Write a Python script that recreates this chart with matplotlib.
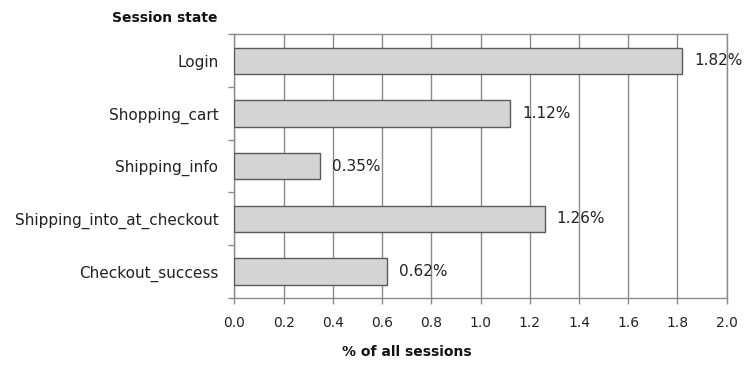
import matplotlib
matplotlib.use("Agg")
import matplotlib.pyplot as plt
import numpy as np

categories = ["Login", "Shopping_cart", "Shipping_info", "Shipping_into_at_checkout", "Checkout_success"]
values = [1.82, 1.12, 0.35, 1.26, 0.62]
value_labels = ["1.82%", "1.12%", "0.35%", "1.26%", "0.62%"]
xticks = [0.0, 0.2, 0.4, 0.6, 0.8, 1.0, 1.2, 1.4, 1.6, 1.8, 2.0]

plt.rcParams['font.family'] = ['DejaVu Sans']

fig = plt.figure(figsize=(7.47, 3.74), dpi=100)
ax = fig.add_axes([0.3137, 0.204, 0.9728 - 0.3137, 0.9078 - 0.204])

y = np.arange(len(categories))
ax.barh(y, values, height=0.5, color="#d4d4d4", edgecolor="#5a5a5a", linewidth=1.0, zorder=3)

for yi, v, lab in zip(y, values, value_labels):
    ax.annotate(lab, (v, yi), xytext=(8.5, 0), textcoords="offset points",
                va="center", ha="left", fontsize=11, color="#222222", zorder=4)

ax.set_xlim(0, 2.0)
ax.set_ylim(len(categories) - 0.5, -0.5)
ax.set_xticks(xticks)
ax.set_xticklabels([f"{t:.1f}" for t in xticks])
ax.set_yticks(y)
ax.set_yticklabels(categories)
ax.set_yticks(np.arange(len(categories) + 1) - 0.5, minor=True)

ax.grid(axis="x", color="#8a8a8a", linewidth=1.0, zorder=0)
ax.set_axisbelow(True)

for s in ax.spines.values():
    s.set_color("#8a8a8a")
    s.set_linewidth(1.0)

ax.tick_params(axis="y", which="major", length=0, pad=11.5, labelsize=11, labelcolor="#222222")
ax.tick_params(axis="y", which="minor", length=4, width=1, color="#8a8a8a", direction="out")
ax.tick_params(axis="x", which="major", length=4, width=1, color="#8a8a8a", direction="out",
               pad=9, labelsize=10, labelcolor="#222222")

fig.text(217 / 747, 1 - 18 / 374, "Session state", ha="right", va="center",
         fontsize=10, fontweight="bold", color="#111111")
fig.text(407 / 747, 1 - 352 / 374, "% of all sessions", ha="center", va="center",
         fontsize=10, fontweight="bold", color="#111111")

fig.savefig("out.png", dpi=100)
